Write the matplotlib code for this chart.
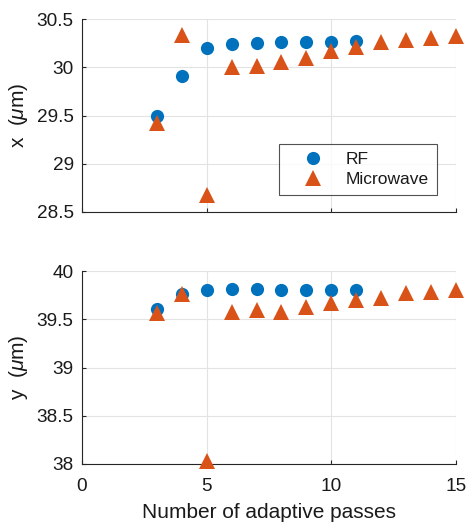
import matplotlib
matplotlib.use("Agg")
import matplotlib.pyplot as plt

plt.rcParams['font.family'] = ['Liberation Sans', 'DejaVu Sans']
plt.rcParams['mathtext.fontset'] = 'custom'
plt.rcParams['mathtext.rm'] = 'Liberation Sans'
plt.rcParams['mathtext.it'] = 'Liberation Sans:italic'

rf_passes = [3, 4, 5, 6, 7, 8, 9, 10, 11]
rf_x = [29.50, 29.91, 30.20, 30.24, 30.25, 30.26, 30.26, 30.26, 30.275]
rf_y = [39.61, 39.76, 39.80, 39.81, 39.81, 39.80, 39.80, 39.80, 39.80]

mw_passes = [3, 4, 5, 6, 7, 8, 9, 10, 11, 12, 13, 14, 15]
mw_x = [29.42, 30.33, 28.68, 30.00, 30.01, 30.05, 30.10, 30.17, 30.21, 30.26, 30.28, 30.30, 30.32]
mw_y = [39.56, 39.76, 38.03, 39.57, 39.60, 39.58, 39.63, 39.67, 39.70, 39.72, 39.77, 39.78, 39.80]

blue = '#0072BD'
orange = '#D95319'
W, H = 467, 523
fig = plt.figure(figsize=(W / 100, H / 100), dpi=100)
ax1 = fig.add_axes([82 / W, 1 - 212 / H, 374 / W, 193 / H])
ax2 = fig.add_axes([82 / W, 1 - 464 / H, 374 / W, 193 / H])

fs = 13.7
tc = '#1a1a1a'
for ax, rf, mw, ylim, yt, lab in [
    (ax1, rf_x, mw_x, (28.5, 30.5), [28.5, 29, 29.5, 30, 30.5], r'x  ($\mu$m)'),
    (ax2, rf_y, mw_y, (38, 40), [38, 38.5, 39, 39.5, 40], r'y  ($\mu$m)'),
]:
    ax.plot(rf_passes, rf, 'o', color=blue, markersize=9.5, markeredgewidth=0, label='RF', clip_on=False, zorder=3)
    ax.plot(mw_passes, mw, '^', color=orange, markersize=11, markeredgewidth=0, label='Microwave', clip_on=False, zorder=3)
    ax.set_xlim(0, 15)
    ax.set_ylim(*ylim)
    ax.set_xticks([0, 5, 10, 15])
    ax.set_yticks(yt)
    ax.set_yticklabels([f'{v:g}' for v in yt])
    ax.grid(True, color='#e3e3e3', linewidth=0.8)
    ax.set_axisbelow(True)
    for s in ['top', 'right']:
        ax.spines[s].set_visible(False)
    for s in ['left', 'bottom']:
        ax.spines[s].set_color('#262626')
        ax.spines[s].set_linewidth(0.8)
    ax.tick_params(direction='in', length=3, width=0.8, color='#262626', labelsize=fs, labelcolor=tc)
    ax.tick_params(axis='y', pad=6)
    ax.tick_params(axis='x', pad=10)
    ax.set_ylabel(lab, fontsize=15, color=tc, labelpad=5)

ax1.tick_params(labelbottom=False)
ax2.set_xlabel('Number of adaptive passes', fontsize=15, color=tc, labelpad=6)

leg = ax1.legend(loc='lower right', bbox_to_anchor=(0.949, 0.088), fontsize=12.5,
                 frameon=True, fancybox=False, edgecolor='#262626', handletextpad=0.4, borderpad=0.45,
                 labelspacing=0.3, handlelength=3.0, borderaxespad=0)
leg.get_frame().set_linewidth(0.8)
for t in leg.get_texts():
    t.set_color(tc)

fig.savefig('out.png', dpi=100)
